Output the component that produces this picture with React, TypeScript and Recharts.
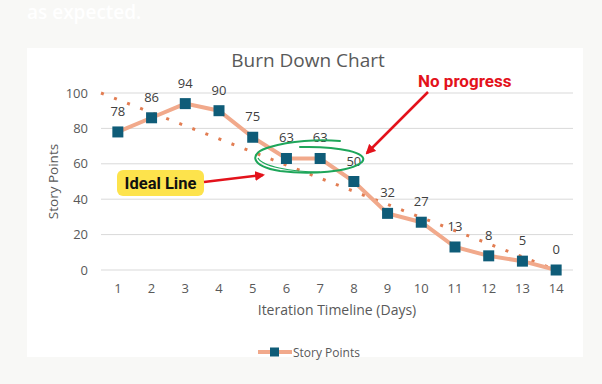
import { CartesianGrid, LabelList, Legend, Line, LineChart, XAxis, YAxis } from "recharts";

const days = [1, 2, 3, 4, 5, 6, 7, 8, 9, 10, 11, 12, 13, 14];
const storyPoints = [78, 86, 94, 90, 75, 63, 63, 50, 32, 27, 13, 8, 5, 0];
const yTicks = [0, 20, 40, 60, 80, 100];

// ideal burn: starts at 100 on the left edge, reaches 0 on day 14
const idealDays = [0.5, 14];
const idealPoints = [100, 0];

const burnData = days.map((d, i) => ({ day: d, points: storyPoints[i] }));
const idealData = idealDays.map((d, i) => ({ day: d, ideal: idealPoints[i] }));

const LINE = "#f1a98b";
const MARK = "#0f5c78";
const TEXT = "#595959";

const SquareDot = (props: any) => {
  const { cx, cy, index } = props;
  if (cx == null || cy == null) return <g key={index} />;
  return <rect key={index} x={cx - 5.5} y={cy - 5.5} width={11} height={11} fill={MARK} />;
};

const StoryLegend = () => (
  <div style={{ height: 10, position: "relative" }}>
    <div
      style={{
        position: "absolute",
        left: 231,
        top: -5,
        height: 20,
        display: "flex",
        alignItems: "center",
        whiteSpace: "nowrap",
      }}
    >
      <svg width={34} height={12}>
        <line x1={0} y1={6} x2={34} y2={6} stroke={LINE} strokeWidth={4} />
        <rect x={12} y={1.5} width={9} height={9} fill={MARK} />
      </svg>
      <span style={{ fontSize: 12, color: TEXT, marginLeft: 1 }}>Story Points</span>
    </div>
  </div>
);

export default function App() {
  return (
    <div
      style={{
        position: "absolute",
        left: 0,
        top: 0,
        width: 602,
        height: 384,
        background: "#f8f8f6",
        overflow: "hidden",
        fontFamily: '"Open Sans", sans-serif',
      }}
    >
      <div style={{ position: "absolute", left: 27, top: 48, width: 556, height: 309, background: "#ffffff" }}>
        <LineChart width={556} height={309} margin={{ top: 45, right: 10, bottom: 0, left: 0 }}>
          <CartesianGrid vertical={false} stroke="#d9d9d9" />
          <XAxis
            type="number"
            dataKey="day"
            domain={[0.5, 14.5]}
            ticks={days}
            interval={0}
            axisLine={false}
            tickLine={false}
            tickMargin={8}
            height={77}
            tick={{ fill: TEXT, fontSize: 13 }}
            label={{ value: "Iteration Timeline (Days)", position: "insideTop", offset: 35, fill: TEXT, fontSize: 14 }}
          />
          <YAxis
            domain={[0, 100]}
            ticks={yTicks}
            width={74}
            axisLine={false}
            tickLine={false}
            tickMargin={7}
            tick={{ fill: TEXT, fontSize: 13 }}
            label={{
              value: "Story Points",
              angle: -90,
              position: "insideLeft",
              offset: 26,
              fill: TEXT,
              fontSize: 13.5,
              style: { textAnchor: "middle" },
            }}
          />
          <Legend verticalAlign="bottom" height={10} wrapperStyle={{ left: 0, width: 556 }} content={StoryLegend} />
          <Line
            data={idealData}
            dataKey="ideal"
            stroke="#e27d52"
            strokeWidth={3}
            strokeDasharray="3 11"
            dot={false}
            legendType="none"
            isAnimationActive={false}
          />
          <Line
            data={burnData}
            dataKey="points"
            name="Story Points"
            stroke={LINE}
            strokeWidth={4}
            dot={SquareDot}
            activeDot={false}
            isAnimationActive={false}
          >
            <LabelList dataKey="points" position="top" offset={16} fill="#404040" fontSize={13} />
          </Line>
        </LineChart>
      </div>
      <svg
        width={602}
        height={384}
        style={{ position: "absolute", left: 0, top: 0, pointerEvents: "none" }}
      >
        <defs>
          <marker id="arrowRed" viewBox="0 0 10 10" refX={8} refY={5} markerWidth={4} markerHeight={4} orient="auto">
            <path d="M0,0 L10,5 L0,10 Z" fill="#e3121b" />
          </marker>
        </defs>
        <text x={27} y={19} fontSize={19} fontWeight={600} fill="#ffffff">
          as expected.
        </text>
        <text x={308} y={67} textAnchor="middle" fontSize={19} fill={TEXT}>
          Burn Down Chart
        </text>
        <text x={418} y={87} fontFamily="Roboto" fontWeight={700} fontSize={17} fill="#e3121b">
          No progress
        </text>
        <line x1={428} y1={92} x2={367} y2={153} stroke="#e3121b" strokeWidth={2.5} markerEnd="url(#arrowRed)" />
        <path
          d="M340,141 C318,139 290,141 270,147 C248,153 250,166 280,171 C310,175 350,172 362,162 C370,153 340,146 300,147"
          fill="none"
          stroke="#1ea65a"
          strokeWidth={2}
          strokeLinecap="round"
        />
        <path d="M258,158 C262,166 290,172 320,172" fill="none" stroke="#1ea65a" strokeWidth={1.2} />
        <rect x={117} y={170} width={87} height={26} rx={6} fill="#fde34c" />
        <text x={160.5} y={189} textAnchor="middle" fontFamily="Roboto" fontWeight={700} fontSize={16.5} fill="#111111">
          Ideal Line
        </text>
        <line x1={204} y1={182} x2={263} y2={175} stroke="#e3121b" strokeWidth={2.5} markerEnd="url(#arrowRed)" />
      </svg>
    </div>
  );
}
